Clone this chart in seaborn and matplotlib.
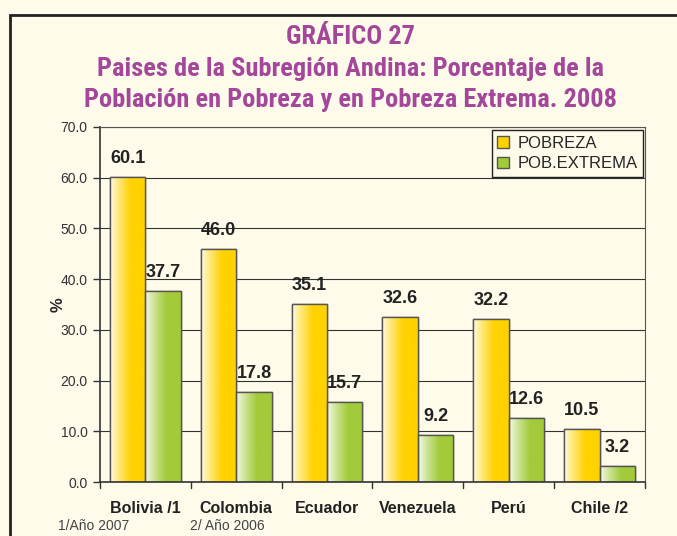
import numpy as np
import pandas as pd
import matplotlib.pyplot as plt
import seaborn as sns
from matplotlib.colors import LinearSegmentedColormap
from matplotlib.patches import Rectangle
from matplotlib import font_manager

# data
paises = ["Bolivia /1", "Colombia", "Ecuador", "Venezuela", "Perú", "Chile /2"]
pobreza = [60.1, 46.0, 35.1, 32.6, 32.2, 10.5]
pob_extrema = [37.7, 17.8, 15.7, 9.2, 12.6, 3.2]
series = ["POBREZA", "POB.EXTREMA"]

BG = "#FEFBEA"
GOLD = "#FFD200"
GREEN = "#A2CB3A"
PURPLE = "#A4479B"

df = pd.DataFrame({
    "pais": paises * 2,
    "valor": pobreza + pob_extrema,
    "serie": [series[0]] * len(paises) + [series[1]] * len(paises),
})

sns.set_style("white")
plt.rcParams["font.family"] = ["Liberation Sans", "DejaVu Sans"]

# condensed bold face for the title, if one is installed
bold_cond = {f.name for f in font_manager.fontManager.ttflist
             if ("Condensed" in f.name or "Narrow" in f.name)
             and f.weight in (700, "bold")}
prefer = ["Liberation Sans Narrow", "Roboto Condensed", "Arial Narrow",
          "Noto Sans Condensed", "Open Sans Condensed"]
tfont = [n for n in prefer if n in bold_cond] or sorted(bold_cond)
tfont = tfont[:1] + ["Roboto", "DejaVu Sans"]

fig = plt.figure(figsize=(6.77, 5.36), dpi=100, facecolor=BG)
ax = fig.add_axes([0.1477, 0.1007, 0.805, 0.6624])
ax.set_facecolor(BG)

sns.barplot(data=df, x="pais", y="valor", hue="serie", order=paises,
            hue_order=series, palette=[GOLD, GREEN], width=0.78,
            edgecolor="#555555", linewidth=1.0, ax=ax, legend=False)

# gradient fill (white -> colour) clipped to each bar
grad = np.concatenate([np.linspace(0.05, 1, 60) ** 0.8, np.ones(40)]).reshape(1, -1)
cmaps = {GOLD: LinearSegmentedColormap.from_list("g", ["white", GOLD]),
         GREEN: LinearSegmentedColormap.from_list("v", ["white", GREEN])}
for i, p in enumerate(list(ax.patches)):
    col = GOLD if i < len(paises) else GREEN
    x0, y0 = p.get_x(), p.get_y()
    w, h = p.get_width(), p.get_height()
    im = ax.imshow(grad, cmap=cmaps[col], vmin=0, vmax=1,
                   extent=[x0, x0 + w, y0, y0 + h],
                   aspect="auto", zorder=p.get_zorder() + 0.1)
    im.set_clip_path(p)
    edge = Rectangle((x0, y0), w, h, fill=False, edgecolor="#555555",
                     linewidth=1.0, zorder=p.get_zorder() + 0.2)
    ax.add_patch(edge)

for i, v in enumerate(pobreza):
    ax.text(i - 0.195, v + 2.0, f"{v:.1f}", ha="center", va="bottom",
            fontsize=13, fontweight="bold", color="#222222")
for i, v in enumerate(pob_extrema):
    ax.text(i + 0.195, v + 2.0, f"{v:.1f}", ha="center", va="bottom",
            fontsize=13, fontweight="bold", color="#222222")

ax.set_xlim(-0.5, len(paises) - 0.5)
ax.set_ylim(0, 70)
ax.set_yticks(np.arange(0, 71, 10))
ax.set_yticklabels([f"{t:.1f}" for t in range(0, 71, 10)], fontsize=10, color="#333333")
ax.yaxis.grid(True, color="#333333", linewidth=0.8)
ax.set_axisbelow(True)
ax.tick_params(axis="y", length=5, width=1, color="#333333", left=True, pad=4)

ax.set_xticks(np.arange(len(paises)))
ax.set_xticklabels(paises, fontsize=11.5, fontweight="bold", color="#222222")
ax.tick_params(axis="x", length=0, pad=14)
for b in np.arange(-0.5, len(paises) + 0.5, 1):
    ax.plot([b, b], [0, -1.2], color="#333333", lw=1, clip_on=False)

ax.set_xlabel("")
ax.set_ylabel("%", fontsize=12, fontweight="bold", labelpad=-4)
for s in ["left", "bottom"]:
    ax.spines[s].set_color("#333333")
    ax.spines[s].set_linewidth(1.2)
for s in ["top", "right"]:
    ax.spines[s].set_color("#555555")
    ax.spines[s].set_linewidth(0.8)

handles = [Rectangle((0, 0), 1, 1, facecolor=GOLD, edgecolor="#555555"),
           Rectangle((0, 0), 1, 1, facecolor=GREEN, edgecolor="#555555")]
leg = ax.legend(handles, series, loc="upper right", bbox_to_anchor=(0.997, 0.992),
                fontsize=12, frameon=True, fancybox=False, framealpha=1,
                handlelength=0.7, handleheight=0.7, handletextpad=0.5,
                borderpad=0.35, labelspacing=0.35, borderaxespad=0)
leg.get_frame().set_edgecolor("#222222")
leg.get_frame().set_facecolor(BG)
leg.get_frame().set_linewidth(1.0)

# titles
titles = ["GRÁFICO 27",
          "Paises de la Subregión Andina: Porcentaje de la",
          "Población en Pobreza y en Pobreza Extrema. 2008"]
for t, y in zip(titles, [0.931, 0.871, 0.813]):
    fig.text(0.517, y, t, ha="center", va="center", fontsize=19,
             fontweight="bold", color=PURPLE, family=tfont)

# footnotes
fig.text(0.086, 0.019, "1/Año 2007", fontsize=10, color="#444444", va="center")
fig.text(0.281, 0.019, "2/ Año 2006", fontsize=10, color="#444444", va="center")

# outer frame
fig.add_artist(Rectangle((0.015, -0.05), 1.1, 1.022, transform=fig.transFigure,
                         fill=False, edgecolor="#222222", linewidth=2.0))

fig.savefig("out.png", dpi=100, facecolor=BG)
